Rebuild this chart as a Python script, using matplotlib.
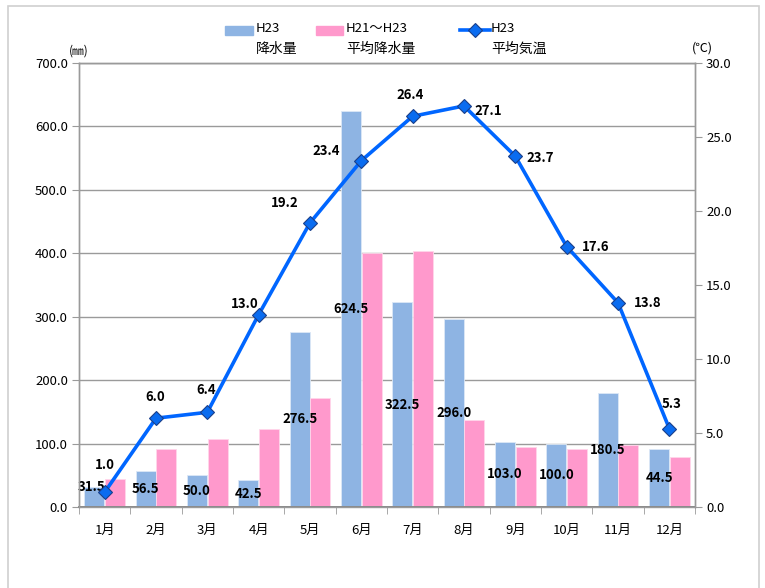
import matplotlib
matplotlib.use('Agg')
import matplotlib.pyplot as plt
from matplotlib.patches import Rectangle
from matplotlib.lines import Line2D
import numpy as np

plt.rcParams['font.family'] = ['Noto Sans CJK JP', 'DejaVu Sans']

# データ
months = ['1月', '2月', '3月', '4月', '5月', '6月', '7月', '8月', '9月', '10月', '11月', '12月']
rain_h23 = [31.5, 56.5, 50.0, 42.5, 276.5, 624.5, 322.5, 296.0, 103.0, 100.0, 180.5, 92.0]
rain_h23_labels = ['31.5', '56.5', '50.0', '42.5', '276.5', '624.5', '322.5', '296.0',
                   '103.0', '100.0', '180.5', '44.5']
rain_avg = [44, 91, 107, 123, 172, 401, 403, 137, 95, 92, 98, 79]
temp_h23 = [1.0, 6.0, 6.4, 13.0, 19.2, 23.4, 26.4, 27.1, 23.7, 17.6, 13.8, 5.3]

# ラベル位置 (pixels)
rain_offsets = [(-3, 10)] + [(0, 0)] * 11
temp_offsets = [(0, 27), (-1, 21), (-1, 22), (-14, 11), (-25, 20), (-35, 10),
                (-2, 21), (24, -5), (25, -2), (29, 0), (30, 0), (2, 25)]

W, H = 765, 588
BLUE = '#8EB4E3'
PINK = '#FF99CC'
LINE = '#0066FF'
GRID = '#9A9A9A'


def fx(px):
    return px / W


def fy(py):
    return 1 - py / H


fig = plt.figure(figsize=(W / 100, H / 100), dpi=100)
ax = fig.add_axes([fx(79), fy(507), fx(695) - fx(79), fy(63) - fy(507)])
ax2 = ax.twinx()

# 外枠
fig.patches.append(Rectangle((fx(8), fy(600)), fx(759) - fx(8), fy(6) - fy(600),
                             transform=fig.transFigure, fill=False,
                             edgecolor='#D0D0D0', linewidth=1.2))

x = np.arange(len(months))
w = 0.39
ax.bar(x - 0.2, rain_h23, w, color=BLUE, edgecolor='#DCE8F6', linewidth=0.6, zorder=2)
ax.bar(x + 0.2, rain_avg, w, color=PINK, edgecolor='#FFD6EA', linewidth=0.6, zorder=2)

for xi, val, lab, (dx, dy) in zip(x, rain_h23, rain_h23_labels, rain_offsets):
    ax.annotate(lab, (xi - 0.2, val / 2), xytext=(dx, dy), textcoords='offset pixels',
                ha='center', va='center', fontsize=9.5, fontweight='bold',
                color='black', zorder=5)

ax.set_xlim(-0.5, 11.5)
ax.set_ylim(0, 700)
ax.set_yticks(np.arange(0, 701, 100))
ax.set_yticklabels([f'{v:.1f}' for v in np.arange(0, 701, 100)])
ax.yaxis.grid(True, color=GRID, linewidth=1)
ax.set_axisbelow(True)
ax.set_xticks(x)
ax.set_xticklabels(months)
ax.set_xticks(np.arange(-0.5, 12, 1), minor=True)
ax.tick_params(axis='x', which='major', length=0, pad=12, labelsize=9.5)
ax.tick_params(axis='x', which='minor', length=5, color=GRID, direction='out')
ax.tick_params(axis='y', length=5, color=GRID, labelsize=9.5, pad=3)

ax2.plot(x, temp_h23, color=LINE, linewidth=2.6, marker='D', markersize=7,
         markerfacecolor='#0A6CF0', markeredgecolor='#1A3F8A', markeredgewidth=0.8,
         zorder=4)
for xi, t, (dx, dy) in zip(x, temp_h23, temp_offsets):
    ax2.annotate(f'{t:.1f}', (xi, t), xytext=(dx, dy), textcoords='offset pixels',
                 ha='center', va='center', fontsize=9.5, fontweight='bold',
                 color='black', zorder=6)
ax2.set_ylim(0, 30)
ax2.set_yticks(np.arange(0, 31, 5))
ax2.set_yticklabels([f'{v:.1f}' for v in np.arange(0, 31, 5)])
ax2.tick_params(axis='y', length=5, color=GRID, labelsize=9.5, pad=3)

for a in (ax, ax2):
    for s in a.spines.values():
        s.set_color(GRID)
        s.set_linewidth(1)
ax.spines['bottom'].set_color('#888888')
ax.spines['bottom'].set_linewidth(1.4)

# 単位
fig.text(fx(79), fy(51), '(㎜)', ha='center', va='center', fontsize=8.5)
fig.text(fx(702), fy(48), '(℃)', ha='center', va='center', fontsize=9)

# 凡例
fig.patches.append(Rectangle((fx(225), fy(35)), fx(253) - fx(225), fy(26) - fy(35),
                             transform=fig.transFigure, color=BLUE))
fig.patches.append(Rectangle((fx(316), fy(35)), fx(343) - fx(316), fy(26) - fy(35),
                             transform=fig.transFigure, color=PINK))
fig.lines.append(Line2D([fx(460), fx(490)], [fy(30), fy(30)], transform=fig.transFigure,
                        color=LINE, linewidth=2.6))
fig.lines.append(Line2D([fx(475)], [fy(30)], transform=fig.transFigure, marker='D',
                        markersize=7, markerfacecolor='#0A6CF0', markeredgecolor='#1A3F8A',
                        markeredgewidth=0.8, linestyle='none'))
for tx, top, bottom in [(256, 'H23', '降水量'), (346, 'H21～H23', '平均降水量'),
                        (491, 'H23', '平均気温')]:
    fig.text(fx(tx), fy(29), top, ha='left', va='center', fontsize=9.5)
    fig.text(fx(tx), fy(49), bottom, ha='left', va='center', fontsize=10)

fig.savefig('out.png', dpi=100)
